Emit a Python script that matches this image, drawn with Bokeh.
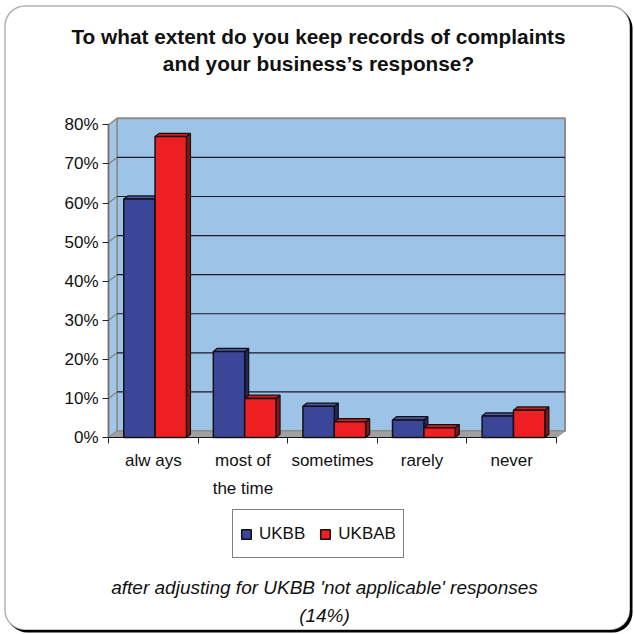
from bokeh.plotting import figure
from bokeh.models import (Range1d, FixedTicker, PrintfTickFormatter, Label,
                          Legend, LegendItem, BoxAnnotation)
from bokeh.embed import file_html
from bokeh.resources import INLINE

# ---- data -------------------------------------------------------------
categories = ["alw ays", "most of\nthe time", "sometimes", "rarely", "never"]
series_names = ["UKBB", "UKBAB"]
ukbb = [61, 22, 8, 4.5, 5.5]
ukbab = [77, 10, 4, 2.5, 7]
y_ticks = [0, 10, 20, 30, 40, 50, 60, 70, 80]
title_lines = ["To what extent do you keep records of complaints",
               "and your business\u2019s response?"]
caption_lines = ["after adjusting for UKBB 'not applicable' responses",
                 "(14%)"]

# ---- page geometry (pixels) ------------------------------------------
W = H = 634
AXIS_X_PX, AXIS_Y_PX = 108, 437     # where the value axis / category axis sit
CAT_PX, PCT_PX = 89.6, 3.908        # pixels per category slot / per percent


def xd(px):
    """canvas x pixel -> category-axis data value"""
    return (px - AXIS_X_PX) / CAT_PX


def yd(py):
    """canvas y pixel (from top) -> percent-axis data value"""
    return (AXIS_Y_PX - py) / PCT_PX


# ---- styling / 3-D geometry (data units) -----------------------------
FONT = "Liberation Sans"
WALL_DX, WALL_DY = 8.5 / CAT_PX, 6.5 / PCT_PX   # depth of the back wall
BAR_DX, BAR_DY = 4 / CAT_PX, 3.2 / PCT_PX       # depth of each bar
BAR_LEFT, BAR_W = 0.17, 0.35                    # bar offset inside a slot
WALL_BLUE = "#9DC3E6"
SIDE_BLUE = "#A3C6E6"
FLOOR = "#A0A0A0"
COLORS = [("#3B4699", "#4A56A8", "#1F2760"),   # front, top, side
          ("#EE2024", "#D41C1F", "#8A1414")]

n = len(categories)
ymax = y_ticks[-1]

p = figure(width=W, height=H, output_backend="svg", toolbar_location=None,
           title_location=None, min_border=0,
           x_range=Range1d(xd(0), xd(W)), y_range=Range1d(yd(H), yd(0)))
p.background_fill_color = "white"
p.border_fill_color = "white"
p.outline_line_color = None
p.xgrid.visible = False
p.ygrid.visible = False

# ---- rounded card with a hard drop shadow ----------------------------
p.add_layout(BoxAnnotation(left=xd(7), right=xd(632), top=yd(8), bottom=yd(632),
                           fill_color="black", fill_alpha=1, line_color=None,
                           border_radius=20, level="underlay"))
p.add_layout(BoxAnnotation(left=xd(4.5), right=xd(629.5), top=yd(5.5), bottom=yd(629.5),
                           fill_color="white", fill_alpha=1, line_color="black",
                           line_width=1.5, border_radius=20, level="underlay"))

# ---- walls and floor -------------------------------------------------
p.patch([WALL_DX, n + WALL_DX, n + WALL_DX, WALL_DX],
        [WALL_DY, WALL_DY, ymax + WALL_DY, ymax + WALL_DY],
        fill_color=WALL_BLUE, line_color="#8C8C8C", line_width=2)
p.patch([0, WALL_DX, WALL_DX, 0],
        [0, WALL_DY, ymax + WALL_DY, ymax],
        fill_color=SIDE_BLUE, line_color="#8C8C8C", line_width=1.5)
p.patch([0, n, n + WALL_DX, WALL_DX],
        [0, 0, WALL_DY, WALL_DY],
        fill_color=FLOOR, line_color="#8C8C8C", line_width=1)

# gridlines on the back wall and the side wall
grid_vals = y_ticks[1:-1]
p.segment(x0=[WALL_DX] * len(grid_vals), x1=[n + WALL_DX] * len(grid_vals),
          y0=[v + WALL_DY for v in grid_vals], y1=[v + WALL_DY for v in grid_vals],
          line_color="#1A1A2A", line_width=1.2)
p.segment(x0=[0] * len(grid_vals), x1=[WALL_DX] * len(grid_vals),
          y0=grid_vals, y1=[v + WALL_DY for v in grid_vals],
          line_color="#808080", line_width=1.2)

# ---- 3-D bars --------------------------------------------------------
fronts = []
for s, vals in enumerate([ukbb, ukbab]):
    front_c, top_c, side_c = COLORS[s]
    x0 = [i + BAR_LEFT + s * BAR_W for i in range(n)]
    x1 = [x + BAR_W for x in x0]
    side_xs = [[b, b + BAR_DX, b + BAR_DX, b] for b in x1]
    side_ys = [[0, BAR_DY, v + BAR_DY, v] for v in vals]
    top_xs = [[a, b, b + BAR_DX, a + BAR_DX] for a, b in zip(x0, x1)]
    top_ys = [[v, v, v + BAR_DY, v + BAR_DY] for v in vals]
    p.patches(side_xs, side_ys, fill_color=side_c, line_color="#111111", line_width=1.2)
    p.patches(top_xs, top_ys, fill_color=top_c, line_color="#111111", line_width=1.2)
    r = p.quad(left=x0, right=x1, bottom=[0] * n, top=vals,
               fill_color=front_c, line_color="#111111", line_width=1.5)
    fronts.append(r)

# ---- axes (pinned to the origin of the chart) -------------------------
yax = p.yaxis[0]
yax.fixed_location = 0
yax.ticker = FixedTicker(ticks=y_ticks, minor_ticks=[])
yax.formatter = PrintfTickFormatter(format="%d%%")
yax.bounds = (0, ymax)
yax.axis_line_color = "#707070"
yax.axis_line_width = 1.5
yax.major_tick_out = 6
yax.major_tick_in = 0
yax.major_tick_line_color = "#222222"
yax.minor_tick_out = 0
yax.minor_tick_in = 0
yax.major_label_standoff = 4
yax.major_label_text_font = FONT
yax.major_label_text_font_size = "17px"
yax.major_label_text_color = "#111111"

xax = p.xaxis[0]
xax.fixed_location = 0
centers = [i + 0.5 for i in range(n)]
xax.ticker = FixedTicker(ticks=centers, minor_ticks=list(range(n + 1)))
xax.major_label_overrides = {c: lab for c, lab in zip(centers, categories)}
xax.bounds = (0, n)
xax.axis_line_color = "#111111"
xax.axis_line_width = 1.2
xax.major_tick_out = 0
xax.major_tick_in = 0
xax.minor_tick_out = 6
xax.minor_tick_in = 0
xax.minor_tick_line_color = "#222222"
xax.major_label_standoff = 7
xax.major_label_text_font = FONT
xax.major_label_text_font_size = "17px"
xax.major_label_text_line_height = 1.5
xax.major_label_text_color = "#111111"

# ---- legend ----------------------------------------------------------
legend = Legend(items=[LegendItem(label=name, renderers=[r])
                       for name, r in zip(series_names, fronts)],
                location=(232, H - 558), orientation="horizontal",
                border_line_color="black", border_line_width=1.2,
                background_fill_color="white", background_fill_alpha=1,
                padding=7, spacing=14, margin=0,
                glyph_width=12, glyph_height=12, label_standoff=7,
                label_height=33,
                label_text_font=FONT, label_text_font_size="17px",
                label_text_color="#111111")
p.add_layout(legend)

# ---- title and caption (positioned by their vertical centres) ---------
for k, line in enumerate(title_lines):
    p.add_layout(Label(x=xd(318), y=yd(36 + 27 * k), text=line,
                       text_align="center", text_baseline="middle",
                       text_font=FONT, text_font_style="bold",
                       text_font_size="20.8px", text_color="#111111"))
for k, line in enumerate(caption_lines):
    p.add_layout(Label(x=xd(324), y=yd(587 + 28 * k), text=line,
                       text_align="center", text_baseline="middle",
                       text_font=FONT, text_font_style="italic",
                       text_font_size="19px", text_color="#111111"))

open("out.html", "w").write(file_html(p, INLINE))
